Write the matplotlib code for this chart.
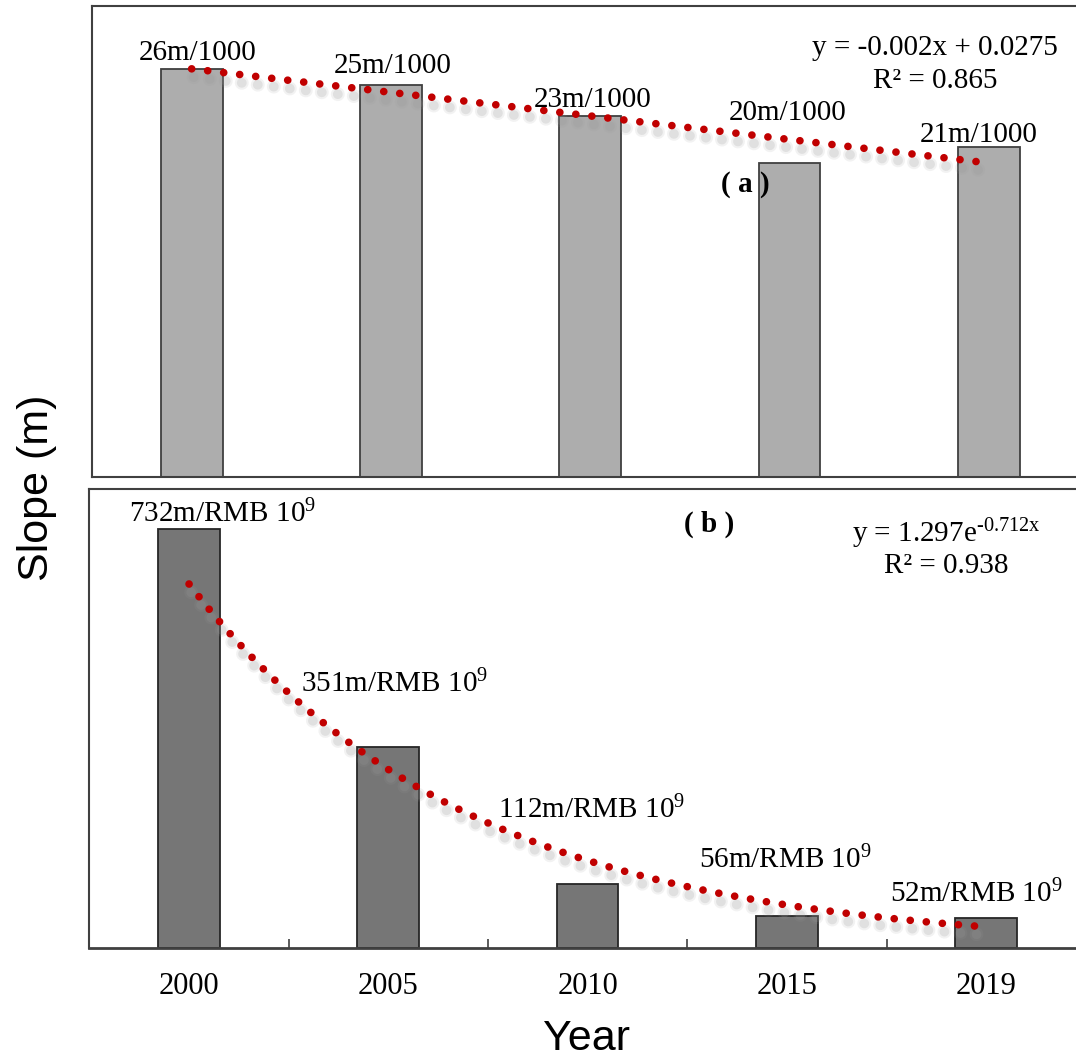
import numpy as np
import matplotlib.pyplot as plt
import matplotlib.patheffects as pe

plt.rcParams['font.family'] = 'Liberation Serif'
plt.rcParams['mathtext.fontset'] = 'custom'
plt.rcParams['mathtext.rm'] = 'Liberation Serif'
plt.rcParams['mathtext.it'] = 'Liberation Serif:italic'

# data
years = ['2000', '2005', '2010', '2015', '2019']
slope_per_km = [0.026, 0.025, 0.023, 0.020, 0.021]   # m per 1000 m
slope_per_gdp = [732, 351, 112, 56, 52]              # m per RMB 10^9
labels_a = ['26m/1000', '25m/1000', '23m/1000', '20m/1000', '21m/1000']
labels_b = [f'{v}m/RMB 10$^{{9}}$' for v in slope_per_gdp]

# label positions (category index, data y of baseline)
pos_a = [(0.03, 0.02656), (1.01, 0.02573), (2.01, 0.02357), (2.99, 0.02274), (3.95, 0.02134)]
pos_b = [(0.17, 744), (1.03, 447), (2.02, 227), (2.99, 140), (3.95, 80)]

x = np.arange(len(years))
xf = np.arange(1, len(years) + 1)
xs = np.linspace(1, len(years), 300)

fig = plt.figure(figsize=(10.76, 10.58), dpi=100)
ax1 = fig.add_axes([0.0855, 0.5491, 0.926, 0.4452])
ax2 = fig.add_axes([0.0831, 0.1040, 0.926, 0.4338])

# dotted trendline with soft grey shadow
shadow = [pe.SimpleLineShadow(offset=(1.5, -6), shadow_color='0.6', alpha=0.12, linewidth=10),
          pe.SimpleLineShadow(offset=(1.5, -6), shadow_color='0.6', alpha=0.2, linewidth=7),
          pe.Normal()]
trend_style = dict(color='#C00000', lw=5.5, linestyle=(0, (0.01, 2.1)),
                   dash_capstyle='round', zorder=4, path_effects=shadow)

# (a) slope per length
ax1.bar(x, slope_per_km, width=0.31, color='#ADADAD', edgecolor='#404040', lw=1.3, zorder=2)
k, b = np.polyfit(xf, slope_per_km, 1)
ax1.plot(xs - 1, k * xs + b, **trend_style)
for (px, py), lab in zip(pos_a, labels_a):
    ax1.text(px, py, lab, ha='center', va='baseline', fontsize=21, zorder=5)
ax1.text(3.73, 0.02688, 'y = -0.002x + 0.0275', ha='center', va='baseline', fontsize=21)
ax1.text(3.73, 0.02478, 'R² = 0.865', ha='center', va='baseline', fontsize=21)
ax1.text(2.78, 0.01815, '( a )', ha='center', va='baseline', fontsize=21, fontweight='bold', zorder=5)
ax1.set_xlim(-0.5, 4.5)
ax1.set_ylim(0, 0.030)
ax1.set_xticks([])
ax1.set_yticks([])

# (b) slope per GDP
ax2.bar(x, slope_per_gdp, width=0.31, color='#767676', edgecolor='#262626', lw=1.3, zorder=2)
kb, bb = np.polyfit(xf, np.log(slope_per_gdp), 1)
ax2.plot(xs - 1, np.exp(bb) * np.exp(kb * xs), **trend_style)
for (px, py), lab in zip(pos_b, labels_b):
    ax2.text(px, py, lab, ha='center', va='baseline', fontsize=21, zorder=5)
ax2.text(3.80, 709, 'y = 1.297e$^{\\text{-0.712x}}$', ha='center', va='baseline', fontsize=21)
ax2.text(3.80, 655, 'R² = 0.938', ha='center', va='baseline', fontsize=21)
ax2.text(2.61, 728, '( b )', ha='center', va='baseline', fontsize=21, fontweight='bold')
ax2.set_xlim(-0.5, 4.5)
ax2.set_ylim(0, 802)
ax2.set_yticks([])
ax2.set_xticks(x)
ax2.set_xticklabels(years, fontsize=22)
ax2.set_xticks(x[:-1] + 0.5, minor=True)
ax2.tick_params(axis='x', which='major', length=0, pad=17)
ax2.tick_params(axis='x', which='minor', direction='in', length=6.5, width=1.2, color='#404040')

for ax in (ax1, ax2):
    for s in ax.spines.values():
        s.set_color('#404040')
        s.set_linewidth(1.5)
ax2.spines['bottom'].set_linewidth(2)

fig.text(0.034, 0.5388, 'Slope (m)', rotation=90, ha='center', va='center',
         fontsize=31, family='Liberation Sans')
fig.text(0.5455, 0.008, 'Year', ha='center', va='baseline', fontsize=31, family='Liberation Sans')

fig.savefig('out.png', dpi=100)
